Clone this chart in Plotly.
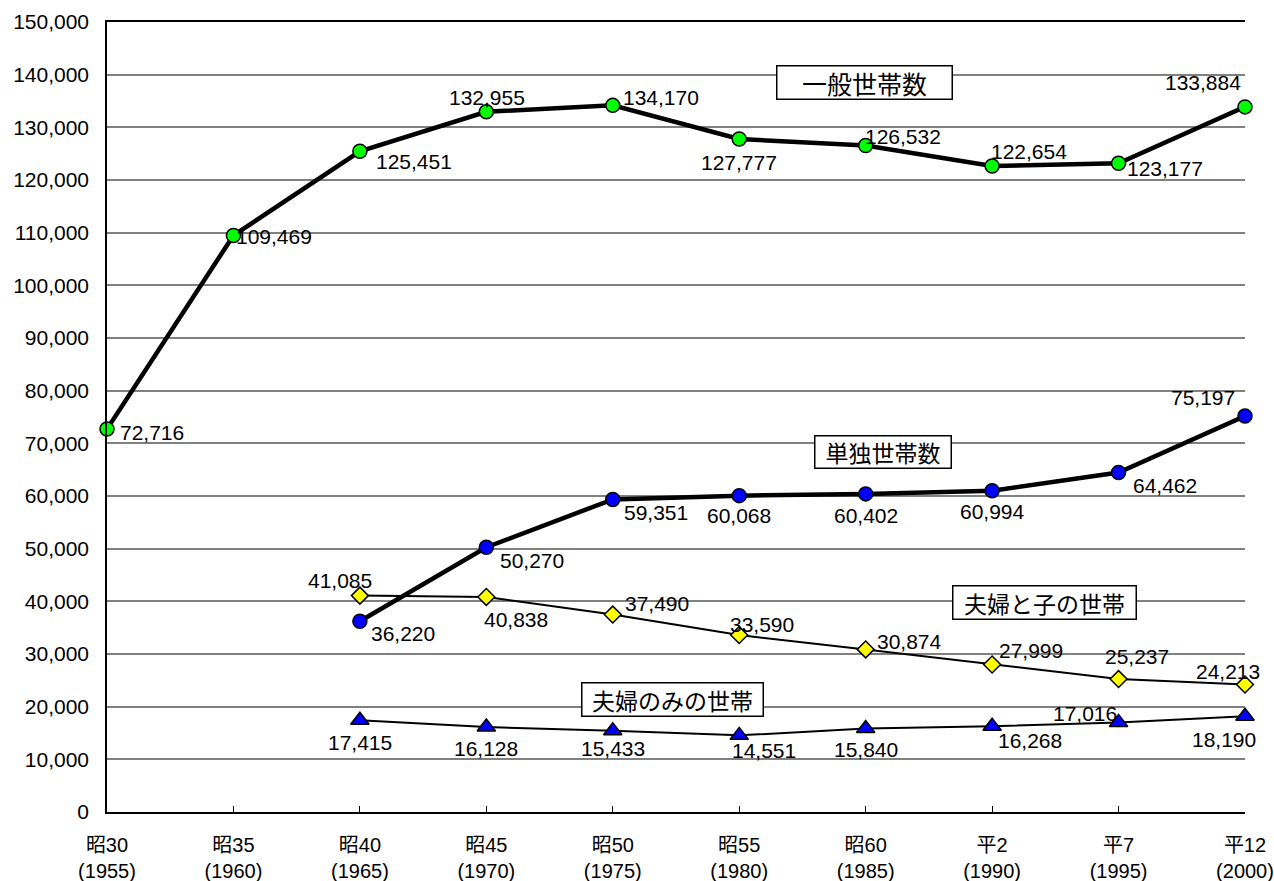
import plotly.graph_objects as go

# Census years (Japanese era label + western year)
periods = ["昭30<br>(1955)", "昭35<br>(1960)", "昭40<br>(1965)", "昭45<br>(1970)", "昭50<br>(1975)",
           "昭55<br>(1980)", "昭60<br>(1985)", "平2<br>(1990)", "平7<br>(1995)", "平12<br>(2000)"]
idx_all = list(range(10))
idx_from_s40 = list(range(2, 10))

general_households = [72716, 109469, 125451, 132955, 134170, 127777, 126532, 122654, 123177, 133884]
single_households = [36220, 50270, 59351, 60068, 60402, 60994, 64462, 75197]
couple_child_households = [41085, 40838, 37490, 33590, 30874, 27999, 25237, 24213]
couple_only_households = [17415, 16128, 15433, 14551, 15840, 16268, 17016, 18190]

# Pixel offsets (dx right, dy down) of each value label from its marker
general_offsets = [(45, 3), (41, 1), (54, 10), (1, -14), (48, -8), (0, 23), (37, -9), (37, -15), (46, 5), (-42, -24)]
single_offsets = [(43, 12), (46, 13), (43, 13), (0, 20), (0, 22), (0, 21), (46, 13), (-42, -18)]
couple_child_offsets = [(-20, -15), (30, 23), (44, -11), (23, -11), (44, -8), (39, -14), (18, -23), (-17, -13)]
couple_only_offsets = [(0, 22), (0, 21), (0, 18), (25, 15), (0, 21), (38, 14), (-34, -9), (-21, 23)]

LATIN = "Liberation Sans, Arial, Noto Sans CJK JP, sans-serif"
CJK = "Noto Sans CJK JP, Liberation Sans, sans-serif"

fig = go.Figure()

fig.add_trace(go.Scatter(
    x=idx_from_s40, y=couple_only_households, mode="lines+markers", name="夫婦のみの世帯",
    line=dict(color="black", width=2),
    marker=dict(symbol="triangle-up", size=16, color="#0000FF", line=dict(color="black", width=1.5)),
    cliponaxis=False))
fig.add_trace(go.Scatter(
    x=idx_from_s40, y=couple_child_households, mode="lines+markers", name="夫婦と子の世帯",
    line=dict(color="black", width=2),
    marker=dict(symbol="diamond", size=13, color="#FFFF00", line=dict(color="black", width=1.5)),
    cliponaxis=False))
fig.add_trace(go.Scatter(
    x=idx_from_s40, y=single_households, mode="lines+markers", name="単独世帯数",
    line=dict(color="black", width=4.5),
    marker=dict(symbol="circle", size=14, color="#0000FF", line=dict(color="black", width=1.5)),
    cliponaxis=False))
fig.add_trace(go.Scatter(
    x=idx_all, y=general_households, mode="lines+markers", name="一般世帯数",
    line=dict(color="black", width=4.5),
    marker=dict(symbol="circle", size=14, color="#00FF00", line=dict(color="black", width=1.5)),
    cliponaxis=False))

annotations = []
for xs, ys, offs in [(idx_all, general_households, general_offsets),
                     (idx_from_s40, single_households, single_offsets),
                     (idx_from_s40, couple_child_households, couple_child_offsets),
                     (idx_from_s40, couple_only_households, couple_only_offsets)]:
    for xv, yv, (dx, dy) in zip(xs, ys, offs):
        annotations.append(dict(
            x=xv, y=yv, xref="x", yref="y", text=f"{yv:,}", showarrow=False,
            xanchor="center", yanchor="middle", xshift=dx, yshift=-dy,
            font=dict(family=LATIN, size=21, color="black")))

# Series name boxes
series_boxes = [
    ("一般世帯数", 0.666, 0.923, 25, 172, 30),
    ("単独世帯数", 0.682, 0.456, 23, 133, 29),
    ("夫婦と子の世帯", 0.824, 0.265, 23, 180, 30),
    ("夫婦のみの世帯", 0.497, 0.142, 23, 178, 30),
]
for text, px, py, fs, w, h in series_boxes:
    annotations.append(dict(
        x=px, y=py, xref="paper", yref="paper", text=text, showarrow=False,
        xanchor="center", yanchor="middle", width=w, height=h,
        bgcolor="white", bordercolor="black", borderwidth=1.5, borderpad=1,
        font=dict(family=CJK, size=fs, color="black")))

fig.update_layout(
    template="none",
    width=1274, height=881,
    margin=dict(l=107, r=29, t=22, b=69, autoexpand=False),
    paper_bgcolor="white", plot_bgcolor="white",
    showlegend=False,
    font=dict(family=LATIN, size=21, color="black"),
    annotations=annotations,
    xaxis=dict(
        range=[0, 9], tickmode="array", tickvals=idx_all, ticktext=periods,
        showgrid=False, zeroline=False, automargin=False,
        showline=True, linecolor="black", linewidth=1.5, mirror=True,
        ticks="inside", ticklen=6, tickcolor="black", tickwidth=1,
        tickfont=dict(family=LATIN, size=20), ticklabelstandoff=14),
    yaxis=dict(
        range=[0, 150000], tickmode="linear", tick0=0, dtick=10000, tickformat=",d",
        showgrid=True, gridcolor="#808080", gridwidth=1.5, zeroline=False, automargin=False,
        showline=True, linecolor="black", linewidth=1.5,
        ticks="", tickfont=dict(family=LATIN, size=21), ticklabelstandoff=12),
)

fig.write_html("out.html")
